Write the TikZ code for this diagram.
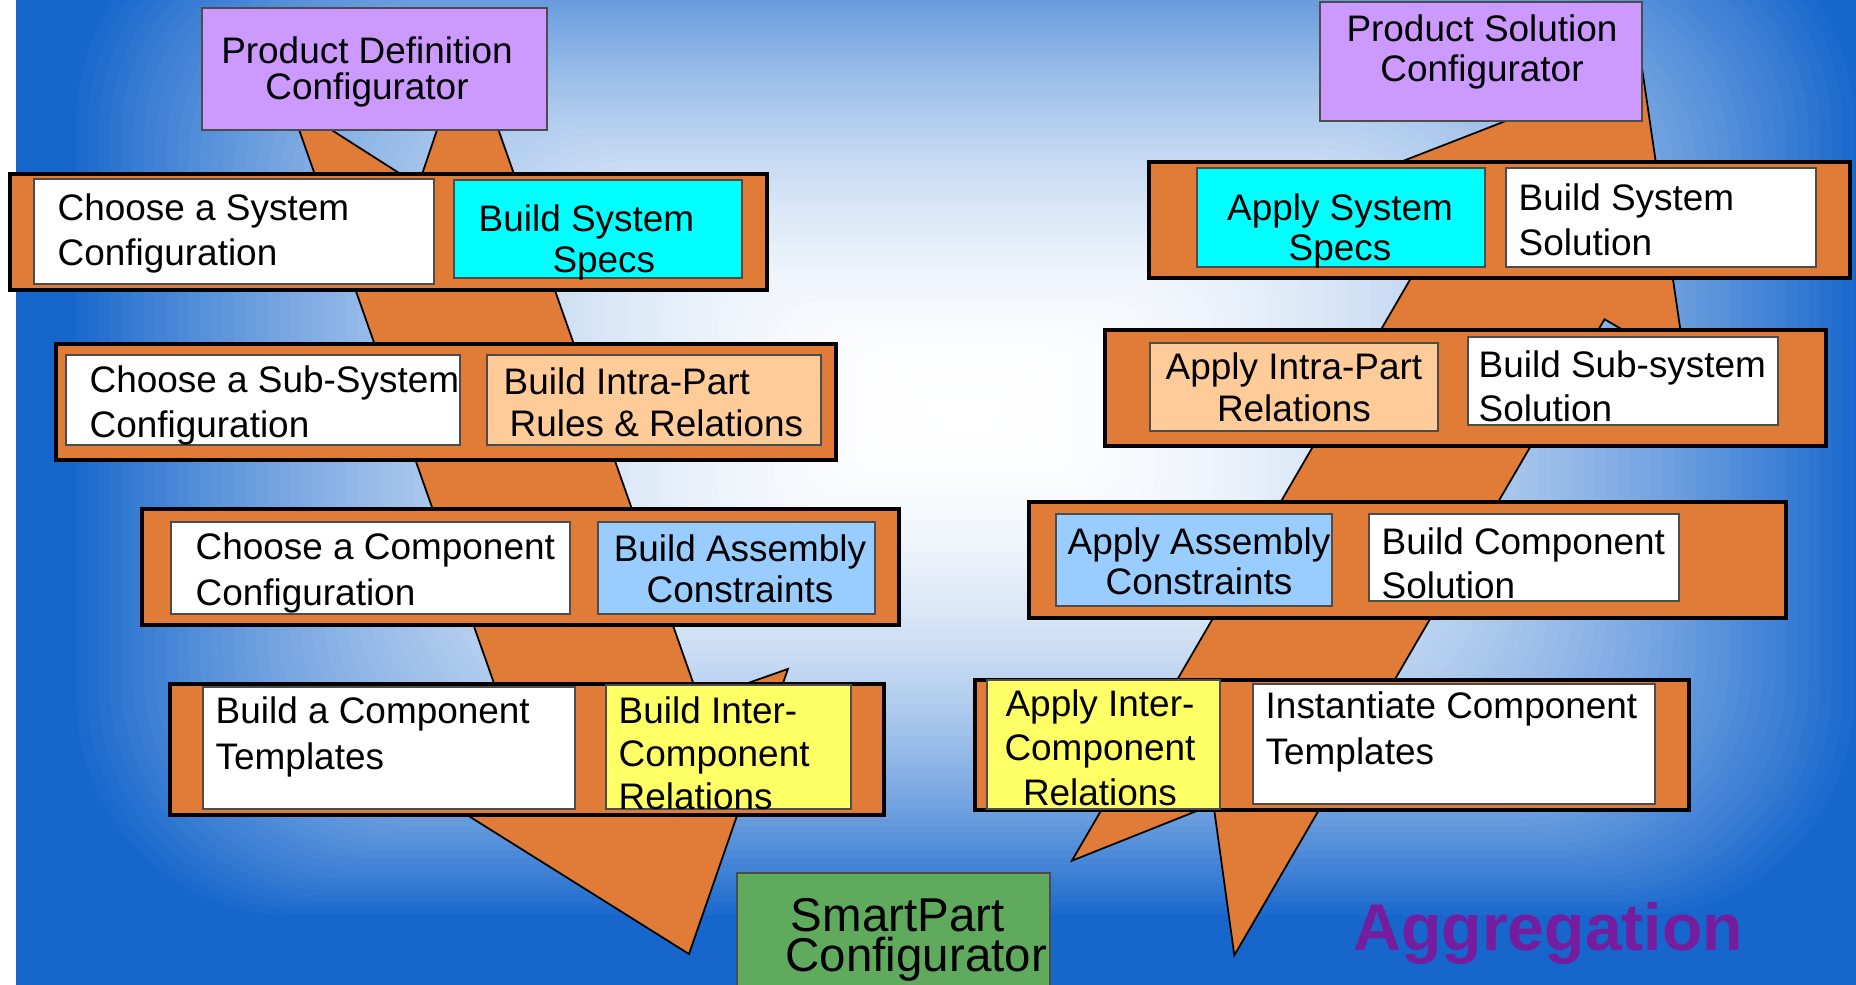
\documentclass[tikz,border=0pt]{standalone}
\usepackage{fontspec}
\setmainfont{Liberation Sans}
\definecolor{bgblue}{RGB}{22,102,204}
\definecolor{barorange}{RGB}{224,124,56}
\definecolor{cfgpurple}{RGB}{204,153,255}
\definecolor{specaqua}{RGB}{0,255,255}
\definecolor{rulepeach}{RGB}{255,204,153}
\definecolor{asmblue}{RGB}{153,204,255}
\definecolor{relyellow}{RGB}{255,255,102}
\definecolor{partgreen}{RGB}{96,170,94}
\definecolor{aggrviolet}{RGB}{118,28,158}
\begin{document}
\begin{tikzpicture}[x=0.01cm,y=0.01cm,
  bar/.style={draw=black,line width=0.9pt,fill=barorange},
  cell/.style={draw=black!70,line width=0.4pt},
  flow/.style={draw=black,line width=0.5pt,fill=barorange},
  txt/.style={inner sep=0pt,anchor=base west,font=\fontsize{10.5}{#1}\selectfont},
  txt/.default=12.7pt,
  ctr/.style={inner sep=0pt,anchor=base,font=\fontsize{10.5}{#1}\selectfont},
  ctr/.default=11.3pt]
% Background
\useasboundingbox (0,0) rectangle (1856,984);
\begin{scope}
\clip (16,-10) rectangle (1870,994);
\fill[bgblue] (16,-10) rectangle (1870,994);
\foreach \i in {0,...,79}{
  \pgfmathsetmacro\s{1-\i/80}
  \pgfmathsetmacro\f{100*(1-\s*\s)}
  \pgfmathsetmacro\rc{22*\s}
  \fill[white!\f!bgblue,rounded corners=\rc mm] (965-900*\s,574-512*\s) rectangle (965+900*\s,574+512*\s);
}
\end{scope}
% Flow arrows
\begin{scope}[shift={(689,30)},rotate=-70.6]
\filldraw[flow] (0,0) -- (-236,188) -- (-236,94) -- (-935,94) -- (-815,0) -- (-935,-94) -- (-236,-94) -- (-236,-188) -- cycle;
\end{scope}
\begin{scope}[shift={(1642,916)},rotate=59.8]
\filldraw[flow] (0,0) -- (-236,188) -- (-236,94) -- (-972,94) -- (-852,0) -- (-972,-94) -- (-236,-94) -- (-236,-188) -- cycle;
\end{scope}
% Left column
\filldraw[cell,fill=cfgpurple] (202,854) rectangle (547,976);
\node[ctr=10.5pt] (pdc) at (367,920) {\begin{tabular}[t]{@{}c@{}}Product Definition\\[-0.6pt]Configurator\end{tabular}};
\filldraw[bar] (10,694) rectangle (767,810);
\filldraw[cell,fill=white] (34,700) rectangle (434,805);
\filldraw[cell,fill=specaqua] (454,706) rectangle (742,804);
\node[txt] (sysconf) at (57,763) {\begin{tabular}[t]{@{}l@{}}Choose a System\\Configuration\end{tabular}};
\node[txt=11.4pt] (sysspec) at (478,752) {\begin{tabular}[t]{@{}l@{}}Build System\\\hspace*{21pt}Specs\end{tabular}};
\filldraw[bar] (56,524) rectangle (836,640);
\filldraw[cell,fill=white] (66,539) rectangle (460,629);
\filldraw[cell,fill=rulepeach] (487,539) rectangle (821,629);
\node[txt] (subconf) at (89,591) {\begin{tabular}[t]{@{}l@{}}Choose a Sub-System\\Configuration\end{tabular}};
\node[txt=11.9pt] (intrarule) at (503,589) {\begin{tabular}[t]{@{}l@{}}Build Intra-Part\\\hspace*{1.7pt}Rules \& Relations\end{tabular}};
\filldraw[bar] (142,359) rectangle (899,475);
\filldraw[cell,fill=white] (171,370) rectangle (570,462);
\filldraw[cell,fill=asmblue] (598,370) rectangle (875,462);
\node[txt=12.8pt] (compconf) at (195,424) {\begin{tabular}[t]{@{}l@{}}Choose a Component\\Configuration\end{tabular}};
\node[ctr=11.4pt] (asmbuild) at (740,422) {\begin{tabular}[t]{@{}c@{}}Build Assembly\\Constraints\end{tabular}};
\filldraw[bar] (170,169) rectangle (884,300);
\filldraw[cell,fill=white] (203,175) rectangle (575,297);
\filldraw[cell,fill=relyellow] (606,175) rectangle (851,299);
\node[txt=12.8pt] (comptmpl) at (215,260) {\begin{tabular}[t]{@{}l@{}}Build a Component\\Templates\end{tabular}};
\node[txt=12.2pt] (interbuild) at (618,260) {\begin{tabular}[t]{@{}l@{}}Build Inter-\\Component\\Relations\end{tabular}};
% Right column
\filldraw[cell,fill=cfgpurple] (1320,863) rectangle (1642,982);
\node[ctr=11.2pt] (psc) at (1482,942) {\begin{tabular}[t]{@{}c@{}}Product Solution\\Configurator\end{tabular}};
\filldraw[bar] (1149,706) rectangle (1850,822);
\filldraw[cell,fill=specaqua] (1197,717) rectangle (1485,816);
\filldraw[cell,fill=white] (1506,717) rectangle (1816,816);
\node[ctr=11.2pt] (sysapply) at (1340,763) {\begin{tabular}[t]{@{}c@{}}Apply System\\Specs\end{tabular}};
\node[txt=12.6pt] (syssol) at (1518,773) {\begin{tabular}[t]{@{}l@{}}Build System\\Solution\end{tabular}};
\filldraw[bar] (1105,538) rectangle (1826,654);
\filldraw[cell,fill=rulepeach] (1150,553) rectangle (1438,641);
\filldraw[cell,fill=white] (1468,559) rectangle (1778,647);
\node[ctr=11.9pt] (intraapply) at (1294,604) {\begin{tabular}[t]{@{}c@{}}Apply Intra-Part\\Relations\end{tabular}};
\node[txt=12.3pt] (subsol) at (1478,606) {\begin{tabular}[t]{@{}l@{}}Build Sub-system\\Solution\end{tabular}};
\filldraw[bar] (1029,366) rectangle (1786,482);
\filldraw[cell,fill=asmblue] (1056,378) rectangle (1332,470);
\filldraw[cell,fill=white] (1369,383) rectangle (1679,470);
\node[ctr=11.1pt] (asmapply) at (1199,429) {\begin{tabular}[t]{@{}c@{}}Apply Assembly\\Constraints\end{tabular}};
\node[txt=12.3pt] (compsol) at (1381,429) {\begin{tabular}[t]{@{}l@{}}Build Component\\Solution\end{tabular}};
\filldraw[bar] (975,174) rectangle (1689,304);
\filldraw[cell,fill=relyellow] (987,175) rectangle (1220,304);
\filldraw[cell,fill=white] (1253,180) rectangle (1655,300);
\node[ctr=12.7pt] (interapply) at (1100,268) {\begin{tabular}[t]{@{}c@{}}Apply Inter-\\Component\\Relations\end{tabular}};
\node[txt=12.8pt] (inst) at (1265,265) {\begin{tabular}[t]{@{}l@{}}Instantiate Component\\Templates\end{tabular}};
% SmartPart and title
\filldraw[cell,fill=partgreen] (737,-10) rectangle (1050,111);
\node[inner sep=0pt,anchor=base west,font=\fontsize{13.5}{11.4}\selectfont] (spc) at (785,52) {\begin{tabular}[t]{@{}l@{}}\hspace*{1.5pt}SmartPart\\[-1.9pt]Configurator\end{tabular}};
\node[inner sep=0pt,anchor=base west,font=\fontsize{18.8}{22}\selectfont\bfseries,text=aggrviolet] (aggr) at (1353,34) {Aggregation};
\end{tikzpicture}
\end{document}
